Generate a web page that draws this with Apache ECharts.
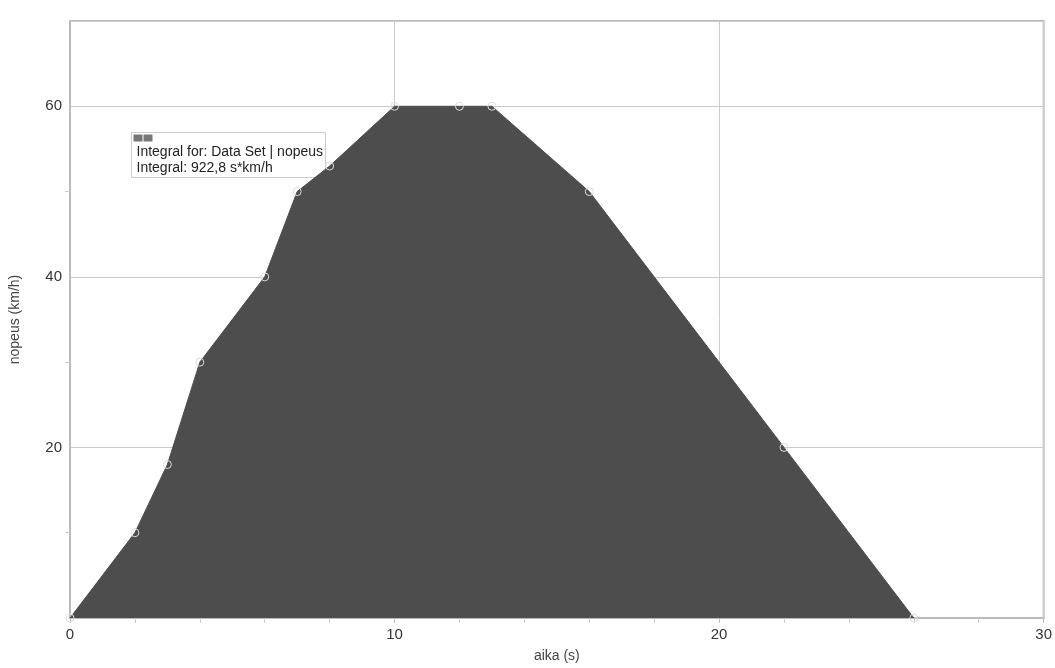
<!DOCTYPE html>
<html><head><meta charset="utf-8">
<script src="https://cdn.jsdelivr.net/npm/echarts@6/dist/echarts.min.js"></script>
<style>html,body{margin:0;padding:0;background:#fff}#c{width:1055px;height:668px}</style>
</head><body><div id="c"></div>
<script>
const timeS = [0, 2, 3, 4, 6, 7, 8, 10, 12, 13, 16, 22, 26];
const speedKmh = [0, 10, 18, 30, 40, 50, 53, 60, 60, 60, 50, 20, 0];
const xTicks = [0, 10, 20, 30];
const yTicks = [20, 40, 60];
const legendLines = ['Integral for: Data Set | nopeus', 'Integral: 922,8 s*km/h'];

const chart = echarts.init(document.getElementById('c'));
const font = 'Liberation Sans, Arial, sans-serif';
chart.setOption({
  animation: false,
  grid: {left: 70, right: 8, top: 21, bottom: 46, show: true, borderColor: '#bbb', borderWidth: 2},
  xAxis: {
    type: 'value', min: 0, max: 30, interval: 10,
    name: 'aika (s)', nameLocation: 'middle', nameGap: 31,
    nameTextStyle: {fontFamily: font, fontSize: 14, color: '#444'},
    axisLine: {show: true, lineStyle: {color: '#bbb', width: 2}},
    axisTick: {show: true, length: 5, lineStyle: {color: '#bbb'}},
    minorTick: {show: true, splitNumber: 5, length: 5, lineStyle: {color: '#ccc'}},
    axisLabel: {fontFamily: font, fontSize: 15, color: '#333', margin: 9,
      formatter: v => xTicks.includes(v) ? String(v) : ''},
    splitLine: {show: true, lineStyle: {color: '#ccc', width: 1}}
  },
  yAxis: {
    type: 'value', min: 0, max: 70, interval: 20,
    name: 'nopeus (km/h)', nameLocation: 'middle', nameGap: 48,
    nameTextStyle: {fontFamily: font, fontSize: 14, color: '#444'},
    axisLine: {show: true, lineStyle: {color: '#bbb', width: 2}},
    axisTick: {show: false},
    minorTick: {show: true, splitNumber: 2, length: 5, lineStyle: {color: '#ccc'}},
    axisLabel: {fontFamily: font, fontSize: 15, color: '#333', margin: 8,
      formatter: v => yTicks.includes(v) ? String(v) : ''},
    splitLine: {show: true, lineStyle: {color: '#ccc', width: 1}}
  },
  series: [{
    type: 'line',
    data: timeS.map((t, i) => [t, speedKmh[i]]),
    symbol: 'circle', symbolSize: 8,
    itemStyle: {color: 'rgba(0,0,0,0)', borderColor: '#ddd', borderWidth: 1},
    lineStyle: {color: '#4d4d4d', width: 1},
    areaStyle: {color: '#4d4d4d', opacity: 1},
    z: 3
  }],
  graphic: [{
    type: 'group', left: 131, top: 132, z: 10,
    children: [
      {type: 'rect', shape: {x: 0, y: 0, width: 194, height: 45},
        style: {fill: '#fff', stroke: '#ccc', lineWidth: 1}},
      {type: 'rect', shape: {x: 2, y: 2, width: 9, height: 7}, style: {fill: '#777'}},
      {type: 'rect', shape: {x: 12, y: 2, width: 9, height: 7}, style: {fill: '#777'}},
      {type: 'text', left: 5, top: 13, style: {text: legendLines[0], font: '14px ' + font, fill: '#222'}},
      {type: 'text', left: 5, top: 29, style: {text: legendLines[1], font: '14px ' + font, fill: '#222'}}
    ]
  }]
});
</script></body></html>
